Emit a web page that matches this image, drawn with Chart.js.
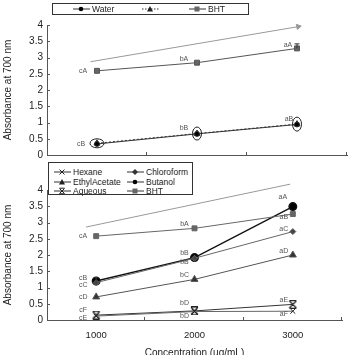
<!DOCTYPE html>
<html><head><meta charset="utf-8">
<script src="https://cdn.jsdelivr.net/npm/chart.js@4.4.0/dist/chart.umd.min.js"></script>
<style>
html,body{margin:0;padding:0;background:#fff;overflow:hidden;width:352px;height:355px;position:relative;}
canvas{position:absolute;left:0;}
#c1{top:0;}
#c2{top:160px;}
.leg{position:absolute;box-sizing:border-box;background:#fff;border:1px solid #333;font-family:"Liberation Sans",Arial,sans-serif;font-size:8.5px;color:#222;filter:grayscale(1);-webkit-font-smoothing:antialiased;}
.item{position:absolute;height:10px;line-height:10px;white-space:nowrap;color:#222;}
.item svg{position:absolute;top:0;left:0;}
.item span{position:absolute;top:0;color:#222;}
</style></head><body>
<canvas id="c1" width="352" height="165"></canvas>
<canvas id="c2" width="352" height="200"></canvas>
<div class="leg" id="leg1" style="left:52px;top:3px;width:197px;height:12px;"></div>
<div class="leg" id="leg2" style="left:48px;top:162px;width:145px;height:33px;"></div>
<script>
// ---------- DATA ----------
const concentrations = [1000, 2000, 3000];
const xTickLabels = ['1000', '2000', '3000'];
const yAxisTitle = 'Absorbance at 700 nm';
const xAxisTitle = 'Concentration (ug/mL)';

// top panel
const topSeriesNames = ['Water', '', 'BHT'];
const topWater = [0.34, 0.65, 0.94];
const topTriangle = [0.36, 0.66, 0.95];
const topBHT = [2.59, 2.84, 3.28];
const topBHTErr = [0, 0, 0.14];
const topWaterLetters = ['cB', 'bB', 'aB'];
const topBHTLetters = ['cA', 'bA', 'aA'];
const topArrowX = [935, 3013];
const topArrowY = [2.87, 3.95];

// bottom panel
const bottomSeriesNames = ['Hexane', 'Chloroform', 'EthylAcetate', 'Butanol', 'Aqueous', 'BHT'];
const hexane = [0.12, 0.26, 0.27];
const chloroform = [1.15, 1.9, 2.72];
const ethylAcetate = [0.71, 1.25, 2.0];
const butanol = [1.2, 1.92, 3.49];
const butanolErr = [0.1, 0, 0];
const aqueous = [0.15, 0.28, 0.48];
const bht = [2.58, 2.82, 3.26];
const hexaneLetters = ['cE', 'bD', 'aF'];
const chloroformLetters = ['cC', 'bB', 'aC'];
const ethylAcetateLetters = ['cD', 'bC', 'aD'];
const butanolLetters = ['cB', 'bB', 'aA'];
const aqueousLetters = ['cF', 'bD', 'aE'];
const bhtLetters = ['cA', 'bA', 'aB'];
const bottomArrowX = [897, 2973];
const bottomArrowY = [2.86, 4.18];

// ---------- HELPERS ----------
const FONT = '"Liberation Sans", Arial, sans-serif';
const pts = (xs, ys) => ys.map((v, i) => ({x: xs[i], y: v}));

function aqueousMarker() {
  const c = document.createElement('canvas');
  c.width = 9; c.height = 9;
  const g = c.getContext('2d');
  g.strokeStyle = '#222'; g.lineWidth = 1.2;
  g.beginPath();
  g.moveTo(1, 1); g.lineTo(8, 8); g.moveTo(8, 1); g.lineTo(1, 8);
  g.moveTo(1, 0.6); g.lineTo(8, 0.6); g.moveTo(1, 8.4); g.lineTo(8, 8.4);
  g.stroke();
  return c;
}

const notesPlugin = {
  id: 'notes',
  afterDatasetsDraw(chart) {
    const ctx = chart.ctx;
    const ys = chart.scales.y;
    chart.data.datasets.forEach((ds, i) => {
      const meta = chart.getDatasetMeta(i);
      meta.data.forEach((el, j) => {
        if (ds.errs && ds.errs[j]) {
          const y1 = ys.getPixelForValue(ds.data[j].y + ds.errs[j]);
          ctx.save(); ctx.strokeStyle = '#333'; ctx.lineWidth = 1;
          ctx.beginPath();
          ctx.moveTo(el.x, el.y); ctx.lineTo(el.x, y1);
          ctx.moveTo(el.x - 2.5, y1); ctx.lineTo(el.x + 2.5, y1);
          ctx.stroke(); ctx.restore();
        }
        if (ds.rings && ds.rings[j]) {
          const r = ds.rings[j];
          ctx.save(); ctx.strokeStyle = '#222'; ctx.lineWidth = 1;
          ctx.beginPath(); ctx.ellipse(el.x, el.y, r[0], r[1], 0, 0, Math.PI * 2);
          ctx.stroke(); ctx.restore();
        }
        if (ds.letters && ds.letters[j]) {
          const o = ds.letterOffsets[j];
          ctx.save(); ctx.fillStyle = '#555'; ctx.font = '7px ' + FONT;
          ctx.textAlign = 'center'; ctx.textBaseline = 'middle';
          ctx.fillText(ds.letters[j], el.x + o[0], el.y + o[1]);
          ctx.restore();
        }
      });
    });
  },
  afterDraw(chart) {
    const ctx = chart.ctx, a = chart.chartArea;
    const ys = chart.scales.y, xs = chart.scales.x;
    ctx.save(); ctx.strokeStyle = '#555'; ctx.lineWidth = 1;
    ctx.beginPath();
    ys.ticks.forEach(t => {
      const p = Math.round(ys.getPixelForValue(t.value)) + 0.5;
      ctx.moveTo(a.left, p); ctx.lineTo(a.left + 3, p);
    });
    xs.ticks.forEach(t => {
      if (t.value % 1000 === 500 && t.value > 500) {
        const p = Math.round(xs.getPixelForValue(t.value)) - 0.5;
        ctx.moveTo(p, a.bottom); ctx.lineTo(p, a.bottom - 3);
      }
    });
    ctx.stroke(); ctx.restore();
  }
};

function makeOptions(showX, padTop, xHeight) {
  return {
    responsive: false, animation: false, devicePixelRatio: 1,
    layout: {padding: {left: 0, right: 3, top: padTop, bottom: 0}},
    plugins: {legend: {display: false}, tooltip: {enabled: false}},
    scales: {
      x: {
        type: 'linear', min: 500, max: 3500,
        afterFit: s => { s.height = xHeight; },
        grid: {display: false, drawTicks: false},
        border: {display: true, color: '#555', width: 1},
        ticks: {
          display: showX, stepSize: 500, autoSkip: false, maxRotation: 0, padding: 10,
          color: '#222', font: {family: FONT, size: 9.5},
          callback: v => { const k = concentrations.indexOf(v); return k >= 0 ? xTickLabels[k] : ''; }
        },
        title: {display: showX, text: xAxisTitle, color: '#222', font: {family: FONT, size: 10}, padding: {top: 0, bottom: 1}}
      },
      y: {
        min: 0, max: 4,
        afterFit: s => { s.width = 47; },
        grid: {display: false, drawTicks: false},
        border: {display: true, color: '#555', width: 1},
        ticks: {stepSize: 0.5, padding: 4, color: '#222', font: {family: FONT, size: 10},
          callback: v => String(Math.round(v * 10) / 10)},
        title: {display: true, text: yAxisTitle, color: '#222', font: {family: FONT, size: 10}, padding: {top: 2, bottom: 0}}
      }
    }
  };
}

function arrowSet(xs, ys, rot) {
  return {data: pts(xs, ys), borderColor: '#999', backgroundColor: '#999', borderWidth: 1,
    pointRadius: [0, 3], pointStyle: 'triangle', pointRotation: [0, rot], clip: false};
}

// ---------- TOP CHART ----------
new Chart(document.getElementById('c1'), {
  type: 'line',
  data: {datasets: [
    arrowSet(topArrowX, topArrowY, 80),
    {label: topSeriesNames[2], data: pts(concentrations, topBHT), borderColor: '#555', backgroundColor: '#666',
      borderWidth: 1, pointStyle: 'rect', pointRadius: 3.5, errs: topBHTErr,
      letters: topBHTLetters, letterOffsets: [[-14, 0], [-13, -4], [-9, -3]]},
    {label: topSeriesNames[0], data: pts(concentrations, topWater), borderColor: '#333', backgroundColor: '#000',
      borderWidth: 1, pointStyle: 'circle', pointRadius: 2.5,
      letters: topWaterLetters, letterOffsets: [[-16, 0], [-13, -6], [-8, -5]]},
    {label: 'triangle', data: pts(concentrations, topTriangle), borderColor: '#333', backgroundColor: '#000',
      borderWidth: 1, borderDash: [2, 2], pointStyle: 'triangle', pointRadius: 3.5,
      rings: [[7, 4.5], [4.5, 6.5], [4.5, 7]]}
  ]},
  options: makeOptions(false, 25, 10),
  plugins: [notesPlugin]
});

// ---------- BOTTOM CHART ----------
new Chart(document.getElementById('c2'), {
  type: 'line',
  data: {datasets: [
    arrowSet(bottomArrowX, bottomArrowY, 78),
    {label: bottomSeriesNames[5], data: pts(concentrations, bht), borderColor: '#666', backgroundColor: '#666',
      borderWidth: 1, pointStyle: 'rect', pointRadius: 3.5,
      letters: bhtLetters, letterOffsets: [[-13, 0], [-10, -4], [-9, 3]]},
    {label: bottomSeriesNames[0], data: pts(concentrations, hexane), borderColor: '#666', backgroundColor: '#222',
      borderWidth: 1, pointStyle: 'crossRot', pointRadius: 3.5, pointBorderColor: '#222',
      letters: hexaneLetters, letterOffsets: [[-13, 2], [-10, 5], [-9, 3]]},
    {label: bottomSeriesNames[4], data: pts(concentrations, aqueous), borderColor: '#333', backgroundColor: '#222',
      borderWidth: 1, pointStyle: aqueousMarker(), pointRadius: 4,
      letters: aqueousLetters, letterOffsets: [[-13, -5], [-10, -8], [-9, -4]]},
    {label: bottomSeriesNames[1], data: pts(concentrations, chloroform), borderColor: '#666', backgroundColor: '#444',
      borderWidth: 1, pointStyle: 'rectRot', pointRadius: 3,
      letters: chloroformLetters, letterOffsets: [[-13, 2], [-10, 4], [-9, -3]]},
    {label: bottomSeriesNames[2], data: pts(concentrations, ethylAcetate), borderColor: '#555', backgroundColor: '#333',
      borderWidth: 1, pointStyle: 'triangle', pointRadius: 4,
      letters: ethylAcetateLetters, letterOffsets: [[-13, 0], [-10, -4], [-9, -4]]},
    {label: bottomSeriesNames[3], data: pts(concentrations, butanol), borderColor: '#111', backgroundColor: '#000',
      borderWidth: 1.4, pointStyle: 'circle', pointRadius: 3.8, errs: butanolErr,
      letters: butanolLetters, letterOffsets: [[-13, -3], [-10, -5], [-10, -10]]}
  ]},
  options: makeOptions(true, 30, 40),
  plugins: [notesPlugin]
});

// ---------- LEGENDS ----------
const markers = {
  circle: '<circle cx="8" cy="5" r="2.3" fill="#000"/>',
  triangle: '<polygon points="8,2 11,7.5 5,7.5" fill="#222"/>',
  square: '<rect x="5.5" y="2.5" width="5" height="5" fill="#666"/>',
  cross: '<path d="M5.5 2.5L10.5 7.5M10.5 2.5L5.5 7.5" stroke="#222" stroke-width="1"/>',
  aq: '<path d="M5.5 2.5L10.5 7.5M10.5 2.5L5.5 7.5M5.5 2.2H10.5M5.5 7.8H10.5" stroke="#222" stroke-width="1"/>',
  diamond: '<polygon points="8,2 11,5 8,8 5,5" fill="#333"/>'
};
function sample(m, dashed) {
  return '<svg width="17" height="10"><line x1="0" y1="5" x2="17" y2="5" stroke="#333" stroke-width="1"' +
    (dashed ? ' stroke-dasharray="1.5,1.5"' : '') + '/>' + markers[m] + '</svg>';
}
function addItem(box, left, top, m, dashed, text) {
  const d = document.createElement('div');
  d.className = 'item';
  d.style.left = left + 'px'; d.style.top = top + 'px';
  d.innerHTML = sample(m, dashed) + '<span style="left:19px">' + text + '</span>';
  box.appendChild(d);
}
const leg1 = document.getElementById('leg1');
addItem(leg1, 20, 0, 'circle', false, topSeriesNames[0]);
addItem(leg1, 89, 0, 'triangle', true, topSeriesNames[1]);
addItem(leg1, 136, 0, 'square', false, topSeriesNames[2]);
const leg2 = document.getElementById('leg2');
addItem(leg2, 5, 4, 'cross', false, bottomSeriesNames[0]);
addItem(leg2, 78, 4, 'diamond', false, bottomSeriesNames[1]);
addItem(leg2, 5, 13.5, 'triangle', false, bottomSeriesNames[2]);
addItem(leg2, 78, 13.5, 'circle', false, bottomSeriesNames[3]);
addItem(leg2, 5, 22.5, 'aq', false, bottomSeriesNames[4]);
addItem(leg2, 78, 22.5, 'square', false, bottomSeriesNames[5]);
</script>
</body></html>
